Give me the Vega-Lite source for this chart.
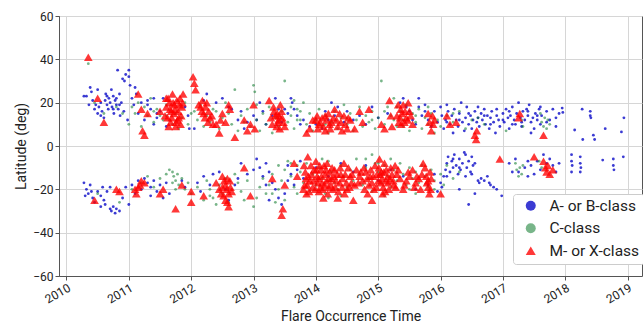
{
"$schema":"https://vega.github.io/schema/vega-lite/v6.json",
"autosize":"none","width":583,"height":260,
"padding":{"left":59,"top":16,"right":1,"bottom":48},
"background":"white",
"config":{"view":{"stroke":"#555","strokeWidth":1},
"axis":{"gridColor":"#d6d6d6","domainColor":"#555","tickColor":"#555","tickSize":4,"labelColor":"#222","titleColor":"#222","labelFont":"Roboto","titleFont":"Roboto","labelFontSize":12,"titleFontSize":14,"titleFontWeight":"normal"},
"legend":{"labelFont":"Roboto","labelFontSize":15.5,"labelColor":"#222"}},
"data":{"values":[
{"t":2010.28,"l":23,"c":"A"},{"t":2010.32,"l":23,"c":"A"},{"t":2010.36,"l":19,"c":"A"},{"t":2010.38,"l":27,"c":"A"},{"t":2010.4,"l":25,"c":"A"},{"t":2010.42,"l":21,"c":"A"},{"t":2010.45,"l":17,"c":"A"},{"t":2010.47,"l":19,"c":"A"},{"t":2010.5,"l":15,"c":"A"},{"t":2010.52,"l":18,"c":"A"},{"t":2010.55,"l":20,"c":"A"},{"t":2010.57,"l":16,"c":"A"},{"t":2010.6,"l":13,"c":"A"},{"t":2010.62,"l":21,"c":"A"},{"t":2010.63,"l":24,"c":"A"},{"t":2010.65,"l":19,"c":"A"},{"t":2010.67,"l":17,"c":"A"},{"t":2010.68,"l":22,"c":"A"},{"t":2010.7,"l":20,"c":"A"},{"t":2010.72,"l":26,"c":"A"},{"t":2010.73,"l":18,"c":"A"},{"t":2010.75,"l":23,"c":"A"},{"t":2010.76,"l":15,"c":"A"},{"t":2010.78,"l":21,"c":"A"},{"t":2010.8,"l":19,"c":"A"},{"t":2010.82,"l":35,"c":"A"},{"t":2010.83,"l":17,"c":"A"},{"t":2010.85,"l":24,"c":"A"},{"t":2010.86,"l":14,"c":"A"},{"t":2010.88,"l":20,"c":"A"},{"t":2010.9,"l":31,"c":"A"},{"t":2010.92,"l":16,"c":"A"},{"t":2010.93,"l":30,"c":"A"},{"t":2010.95,"l":33,"c":"A"},{"t":2011.0,"l":35,"c":"A"},{"t":2011.0,"l":32,"c":"A"},{"t":2011.02,"l":28,"c":"A"},{"t":2011.05,"l":22,"c":"A"},{"t":2011.08,"l":19,"c":"A"},{"t":2010.98,"l":12,"c":"A"},{"t":2011.1,"l":27,"c":"A"},{"t":2011.12,"l":24,"c":"A"},{"t":2011.15,"l":15,"c":"A"},{"t":2011.2,"l":20,"c":"A"},{"t":2011.25,"l":12,"c":"A"},{"t":2011.3,"l":21,"c":"A"},{"t":2011.35,"l":17,"c":"A"},{"t":2011.4,"l":10,"c":"A"},{"t":2011.45,"l":13,"c":"A"},{"t":2011.5,"l":16,"c":"A"},{"t":2011.55,"l":22,"c":"A"},{"t":2011.6,"l":9,"c":"A"},{"t":2011.9,"l":18,"c":"A"},{"t":2011.95,"l":14,"c":"A"},{"t":2011.97,"l":8,"c":"A"},{"t":2012.05,"l":8,"c":"A"},{"t":2012.2,"l":21,"c":"A"},{"t":2012.25,"l":24,"c":"A"},{"t":2012.4,"l":20,"c":"A"},{"t":2012.5,"l":22,"c":"A"},{"t":2012.65,"l":17,"c":"A"},{"t":2012.75,"l":12,"c":"A"},{"t":2012.8,"l":16,"c":"A"},{"t":2012.85,"l":8,"c":"A"},{"t":2012.9,"l":11,"c":"A"},{"t":2013.0,"l":14,"c":"A"},{"t":2013.05,"l":12,"c":"A"},{"t":2013.1,"l":20,"c":"A"},{"t":2013.15,"l":16,"c":"A"},{"t":2013.2,"l":10,"c":"A"},{"t":2013.3,"l":14,"c":"A"},{"t":2013.45,"l":11,"c":"A"},{"t":2013.5,"l":17,"c":"A"},{"t":2013.55,"l":15,"c":"A"},{"t":2013.6,"l":22,"c":"A"},{"t":2013.62,"l":20,"c":"A"},{"t":2013.7,"l":14,"c":"A"},{"t":2013.75,"l":10,"c":"A"},{"t":2013.8,"l":12,"c":"A"},{"t":2013.9,"l":9,"c":"A"},{"t":2014.0,"l":10,"c":"A"},{"t":2014.1,"l":8,"c":"A"},{"t":2014.2,"l":12,"c":"A"},{"t":2014.3,"l":14,"c":"A"},{"t":2014.35,"l":18,"c":"A"},{"t":2014.45,"l":11,"c":"A"},{"t":2014.5,"l":16,"c":"A"},{"t":2014.6,"l":12,"c":"A"},{"t":2014.7,"l":14,"c":"A"},{"t":2014.8,"l":10,"c":"A"},{"t":2014.9,"l":18,"c":"A"},{"t":2015.0,"l":13,"c":"A"},{"t":2015.15,"l":15,"c":"A"},{"t":2015.35,"l":20,"c":"A"},{"t":2015.4,"l":22,"c":"A"},{"t":2015.45,"l":18,"c":"A"},{"t":2015.5,"l":16,"c":"A"},{"t":2015.55,"l":12,"c":"A"},{"t":2015.6,"l":10,"c":"A"},{"t":2015.65,"l":18,"c":"A"},{"t":2015.7,"l":14,"c":"A"},{"t":2015.75,"l":19,"c":"A"},{"t":2015.8,"l":12,"c":"A"},{"t":2015.85,"l":9,"c":"A"},{"t":2015.9,"l":16,"c":"A"},{"t":2015.95,"l":11,"c":"A"},{"t":2016.0,"l":18,"c":"A"},{"t":2016.02,"l":14,"c":"A"},{"t":2016.05,"l":8,"c":"A"},{"t":2016.08,"l":12,"c":"A"},{"t":2016.1,"l":19,"c":"A"},{"t":2016.12,"l":16,"c":"A"},{"t":2016.15,"l":10,"c":"A"},{"t":2016.18,"l":14,"c":"A"},{"t":2016.2,"l":6,"c":"A"},{"t":2016.22,"l":17,"c":"A"},{"t":2016.25,"l":12,"c":"A"},{"t":2016.28,"l":9,"c":"A"},{"t":2016.3,"l":15,"c":"A"},{"t":2016.33,"l":20,"c":"A"},{"t":2016.35,"l":11,"c":"A"},{"t":2016.38,"l":7,"c":"A"},{"t":2016.4,"l":13,"c":"A"},{"t":2016.42,"l":18,"c":"A"},{"t":2016.45,"l":10,"c":"A"},{"t":2016.48,"l":14,"c":"A"},{"t":2016.5,"l":8,"c":"A"},{"t":2016.52,"l":12,"c":"A"},{"t":2016.55,"l":16,"c":"A"},{"t":2016.58,"l":11,"c":"A"},{"t":2016.6,"l":13,"c":"A"},{"t":2016.62,"l":9,"c":"A"},{"t":2016.65,"l":15,"c":"A"},{"t":2016.67,"l":12,"c":"A"},{"t":2016.7,"l":17,"c":"A"},{"t":2016.72,"l":10,"c":"A"},{"t":2016.75,"l":14,"c":"A"},{"t":2016.78,"l":8,"c":"A"},{"t":2016.8,"l":13,"c":"A"},{"t":2016.82,"l":16,"c":"A"},{"t":2016.85,"l":11,"c":"A"},{"t":2016.88,"l":6,"c":"A"},{"t":2016.9,"l":14,"c":"A"},{"t":2016.93,"l":12,"c":"A"},{"t":2016.95,"l":9,"c":"A"},{"t":2017.0,"l":15,"c":"A"},{"t":2017.02,"l":11,"c":"A"},{"t":2017.05,"l":17,"c":"A"},{"t":2017.08,"l":13,"c":"A"},{"t":2017.1,"l":8,"c":"A"},{"t":2017.12,"l":14,"c":"A"},{"t":2017.15,"l":18,"c":"A"},{"t":2017.18,"l":12,"c":"A"},{"t":2017.2,"l":10,"c":"A"},{"t":2017.22,"l":15,"c":"A"},{"t":2017.25,"l":20,"c":"A"},{"t":2017.28,"l":13,"c":"A"},{"t":2017.3,"l":9,"c":"A"},{"t":2017.32,"l":16,"c":"A"},{"t":2017.35,"l":12,"c":"A"},{"t":2017.38,"l":17,"c":"A"},{"t":2017.4,"l":14,"c":"A"},{"t":2017.42,"l":19,"c":"A"},{"t":2017.45,"l":11,"c":"A"},{"t":2017.48,"l":13,"c":"A"},{"t":2017.5,"l":8,"c":"A"},{"t":2017.52,"l":15,"c":"A"},{"t":2017.55,"l":12,"c":"A"},{"t":2017.58,"l":17,"c":"A"},{"t":2017.6,"l":10,"c":"A"},{"t":2017.62,"l":14,"c":"A"},{"t":2017.7,"l":16,"c":"A"},{"t":2017.75,"l":12,"c":"A"},{"t":2017.8,"l":17,"c":"A"},{"t":2017.85,"l":13,"c":"A"},{"t":2017.9,"l":15,"c":"A"},{"t":2017.95,"l":17.5,"c":"A"},{"t":2017.96,"l":15.5,"c":"A"},{"t":2018.15,"l":7.4,"c":"A"},{"t":2018.27,"l":17,"c":"A"},{"t":2018.28,"l":3,"c":"A"},{"t":2018.4,"l":16,"c":"A"},{"t":2018.4,"l":14,"c":"A"},{"t":2018.41,"l":13,"c":"A"},{"t":2018.45,"l":5,"c":"A"},{"t":2018.47,"l":3,"c":"A"},{"t":2018.64,"l":8,"c":"A"},{"t":2018.9,"l":6.5,"c":"A"},{"t":2018.94,"l":13,"c":"A"},
{"t":2010.5,"l":26,"c":"A"},{"t":2010.55,"l":14,"c":"A"},{"t":2010.65,"l":23,"c":"A"},{"t":2010.75,"l":17,"c":"A"},{"t":2010.8,"l":22,"c":"A"},{"t":2010.85,"l":19,"c":"A"},{"t":2011.3,"l":19,"c":"A"},{"t":2011.4,"l":22,"c":"A"},{"t":2011.45,"l":15,"c":"A"},{"t":2012.6,"l":18,"c":"A"},{"t":2013.35,"l":22,"c":"A"},{"t":2013.4,"l":17,"c":"A"},{"t":2013.65,"l":17,"c":"A"},{"t":2014.15,"l":16,"c":"A"},{"t":2014.25,"l":20,"c":"A"},{"t":2015.65,"l":22,"c":"A"},{"t":2015.75,"l":16,"c":"A"},{"t":2016.1,"l":11,"c":"A"},{"t":2016.3,"l":12,"c":"A"},{"t":2016.45,"l":15,"c":"A"},{"t":2016.6,"l":18,"c":"A"},{"t":2016.7,"l":14,"c":"A"},{"t":2016.8,"l":10,"c":"A"},{"t":2016.9,"l":17,"c":"A"},{"t":2017.0,"l":12,"c":"A"},{"t":2017.1,"l":16,"c":"A"},{"t":2017.15,"l":10,"c":"A"},{"t":2017.3,"l":11,"c":"A"},{"t":2017.4,"l":16,"c":"A"},{"t":2017.45,"l":6,"c":"A"},{"t":2017.55,"l":14,"c":"A"},{"t":2017.6,"l":18,"c":"A"},{"t":2017.7,"l":11,"c":"A"},{"t":2017.85,"l":9,"c":"A"},
{"t":2010.28,"l":-17,"c":"A"},{"t":2010.32,"l":-20,"c":"A"},{"t":2010.35,"l":-22,"c":"A"},{"t":2010.38,"l":-18,"c":"A"},{"t":2010.42,"l":-24,"c":"A"},{"t":2010.45,"l":-26,"c":"A"},{"t":2010.5,"l":-21,"c":"A"},{"t":2010.55,"l":-23,"c":"A"},{"t":2010.58,"l":-19,"c":"A"},{"t":2010.6,"l":-25,"c":"A"},{"t":2010.62,"l":-27,"c":"A"},{"t":2010.65,"l":-21,"c":"A"},{"t":2010.7,"l":-29,"c":"A"},{"t":2010.72,"l":-30,"c":"A"},{"t":2010.75,"l":-28,"c":"A"},{"t":2010.78,"l":-31,"c":"A"},{"t":2010.8,"l":-29,"c":"A"},{"t":2010.85,"l":-30,"c":"A"},{"t":2010.9,"l":-24,"c":"A"},{"t":2010.95,"l":-19,"c":"A"},{"t":2011.0,"l":-27,"c":"A"},{"t":2011.05,"l":-18,"c":"A"},{"t":2011.1,"l":-22,"c":"A"},{"t":2011.15,"l":-16,"c":"A"},{"t":2011.25,"l":-15,"c":"A"},{"t":2011.3,"l":-17,"c":"A"},{"t":2011.35,"l":-19,"c":"A"},{"t":2011.4,"l":-16,"c":"A"},{"t":2011.45,"l":-21,"c":"A"},{"t":2011.5,"l":-18,"c":"A"},{"t":2011.55,"l":-24,"c":"A"},{"t":2011.6,"l":-17,"c":"A"},{"t":2011.65,"l":-22,"c":"A"},{"t":2011.85,"l":-16,"c":"A"},{"t":2011.9,"l":-19,"c":"A"},{"t":2012.1,"l":-17,"c":"A"},{"t":2012.15,"l":-21,"c":"A"},{"t":2012.2,"l":-14,"c":"A"},{"t":2012.3,"l":-18,"c":"A"},{"t":2012.35,"l":-13,"c":"A"},{"t":2012.45,"l":-12,"c":"A"},{"t":2012.55,"l":-20,"c":"A"},{"t":2012.6,"l":-25,"c":"A"},{"t":2012.7,"l":-18,"c":"A"},{"t":2012.75,"l":-15,"c":"A"},{"t":2012.8,"l":-8,"c":"A"},{"t":2012.9,"l":-13,"c":"A"},{"t":2013.0,"l":-11,"c":"A"},{"t":2013.05,"l":-6,"c":"A"},{"t":2013.1,"l":-10,"c":"A"},{"t":2013.15,"l":-14,"c":"A"},{"t":2013.2,"l":-8,"c":"A"},{"t":2013.25,"l":-12,"c":"A"},{"t":2013.3,"l":-17,"c":"A"},{"t":2013.35,"l":-20,"c":"A"},{"t":2013.4,"l":-24,"c":"A"},{"t":2013.45,"l":-27,"c":"A"},{"t":2013.5,"l":-22,"c":"A"},{"t":2013.55,"l":-9,"c":"A"},{"t":2013.6,"l":-13,"c":"A"},{"t":2013.65,"l":-18,"c":"A"},{"t":2013.7,"l":-11,"c":"A"},{"t":2013.75,"l":-7,"c":"A"},{"t":2013.8,"l":-15,"c":"A"},{"t":2014.0,"l":-10,"c":"A"},{"t":2014.2,"l":-14,"c":"A"},{"t":2014.4,"l":-8,"c":"A"},{"t":2014.6,"l":-12,"c":"A"},{"t":2014.8,"l":-9,"c":"A"},{"t":2015.0,"l":-16,"c":"A"},{"t":2015.2,"l":-11,"c":"A"},{"t":2015.4,"l":-14,"c":"A"},{"t":2015.6,"l":-20,"c":"A"},{"t":2015.8,"l":-18,"c":"A"},{"t":2015.9,"l":-13,"c":"A"},{"t":2015.95,"l":-21,"c":"A"},{"t":2016.0,"l":-17,"c":"A"},{"t":2016.02,"l":-19,"c":"A"},{"t":2016.05,"l":-14,"c":"A"},{"t":2016.08,"l":-11,"c":"A"},{"t":2016.1,"l":-8,"c":"A"},{"t":2016.12,"l":-5,"c":"A"},{"t":2016.15,"l":-12,"c":"A"},{"t":2016.18,"l":-7,"c":"A"},{"t":2016.2,"l":-10,"c":"A"},{"t":2016.22,"l":-4,"c":"A"},{"t":2016.25,"l":-9,"c":"A"},{"t":2016.28,"l":-13,"c":"A"},{"t":2016.3,"l":-6,"c":"A"},{"t":2016.32,"l":-11,"c":"A"},{"t":2016.35,"l":-8,"c":"A"},{"t":2016.38,"l":-3,"c":"A"},{"t":2016.4,"l":-14,"c":"A"},{"t":2016.42,"l":-10,"c":"A"},{"t":2016.45,"l":-7,"c":"A"},{"t":2016.48,"l":-12,"c":"A"},{"t":2016.5,"l":-5,"c":"A"},{"t":2016.52,"l":-9,"c":"A"},{"t":2016.55,"l":-22,"c":"A"},{"t":2016.6,"l":-16,"c":"A"},{"t":2016.62,"l":-17,"c":"A"},{"t":2016.65,"l":-15,"c":"A"},{"t":2016.7,"l":-16,"c":"A"},{"t":2016.75,"l":-14,"c":"A"},{"t":2016.78,"l":-17,"c":"A"},{"t":2016.8,"l":-18,"c":"A"},{"t":2016.85,"l":-19,"c":"A"},{"t":2016.9,"l":-20,"c":"A"},{"t":2016.98,"l":-23,"c":"A"},{"t":2016.3,"l":-20,"c":"A"},{"t":2016.45,"l":-27,"c":"A"},{"t":2017.1,"l":-8,"c":"A"},{"t":2017.15,"l":-12,"c":"A"},{"t":2017.2,"l":-6,"c":"A"},{"t":2017.35,"l":-10,"c":"A"},{"t":2017.4,"l":-14,"c":"A"},{"t":2017.45,"l":-9,"c":"A"},{"t":2017.5,"l":-13,"c":"A"},{"t":2017.55,"l":-7,"c":"A"},{"t":2017.6,"l":-11,"c":"A"},{"t":2017.65,"l":-4,"c":"A"},{"t":2017.8,"l":-9,"c":"A"},{"t":2017.85,"l":-12,"c":"A"},{"t":2017.9,"l":-8,"c":"A"},{"t":2018.1,"l":-4,"c":"A"},{"t":2018.1,"l":-7,"c":"A"},{"t":2018.11,"l":-9,"c":"A"},{"t":2018.1,"l":-12,"c":"A"},{"t":2018.24,"l":-5,"c":"A"},{"t":2018.24,"l":-8,"c":"A"},{"t":2018.25,"l":-10,"c":"A"},{"t":2018.24,"l":-12,"c":"A"},{"t":2018.6,"l":-6.5,"c":"A"},{"t":2018.77,"l":-6,"c":"A"},{"t":2018.77,"l":-9,"c":"A"},{"t":2018.78,"l":-11,"c":"A"},{"t":2018.93,"l":-5,"c":"A"},
{"t":2010.3,"l":-23,"c":"A"},{"t":2010.4,"l":-21,"c":"A"},{"t":2010.55,"l":-28,"c":"A"},{"t":2010.7,"l":-19,"c":"A"},{"t":2011.2,"l":-20,"c":"A"},{"t":2011.35,"l":-23,"c":"A"},{"t":2013.2,"l":-18,"c":"A"},{"t":2013.25,"l":-25,"c":"A"},{"t":2013.55,"l":-16,"c":"A"},{"t":2016.1,"l":-14,"c":"A"},{"t":2016.2,"l":-6,"c":"A"},{"t":2016.3,"l":-10,"c":"A"},{"t":2016.4,"l":-4,"c":"A"},{"t":2016.5,"l":-13,"c":"A"},{"t":2016.55,"l":-8,"c":"A"},{"t":2017.25,"l":-12,"c":"A"},{"t":2017.4,"l":-7,"c":"A"},{"t":2017.7,"l":-8,"c":"A"},{"t":2017.75,"l":-6,"c":"A"},
{"t":2010.35,"l":38,"c":"C"},{"t":2010.45,"l":20,"c":"C"},{"t":2010.6,"l":15,"c":"C"},{"t":2010.8,"l":18,"c":"C"},{"t":2011.0,"l":10,"c":"C"},{"t":2011.1,"l":15,"c":"C"},{"t":2011.15,"l":20,"c":"C"},{"t":2011.2,"l":9,"c":"C"},{"t":2011.25,"l":18,"c":"C"},{"t":2011.3,"l":14,"c":"C"},{"t":2011.35,"l":22,"c":"C"},{"t":2011.4,"l":11,"c":"C"},{"t":2011.45,"l":17,"c":"C"},{"t":2011.5,"l":14,"c":"C"},{"t":2011.55,"l":12,"c":"C"},{"t":2011.6,"l":19,"c":"C"},{"t":2011.7,"l":10,"c":"C"},{"t":2011.75,"l":15,"c":"C"},{"t":2011.8,"l":8,"c":"C"},{"t":2011.85,"l":13,"c":"C"},{"t":2011.9,"l":20,"c":"C"},{"t":2011.95,"l":10,"c":"C"},{"t":2012.05,"l":16,"c":"C"},{"t":2012.1,"l":12,"c":"C"},{"t":2012.15,"l":19,"c":"C"},{"t":2012.2,"l":9,"c":"C"},{"t":2012.25,"l":14,"c":"C"},{"t":2012.3,"l":11,"c":"C"},{"t":2012.35,"l":17,"c":"C"},{"t":2012.45,"l":8,"c":"C"},{"t":2012.5,"l":13,"c":"C"},{"t":2012.55,"l":20,"c":"C"},{"t":2012.6,"l":15,"c":"C"},{"t":2012.65,"l":10,"c":"C"},{"t":2012.7,"l":26,"c":"C"},{"t":2012.75,"l":7,"c":"C"},{"t":2012.8,"l":14,"c":"C"},{"t":2012.85,"l":11,"c":"C"},{"t":2012.9,"l":17,"c":"C"},{"t":2012.95,"l":9,"c":"C"},{"t":2013.0,"l":28,"c":"C"},{"t":2013.02,"l":25,"c":"C"},{"t":2013.05,"l":12,"c":"C"},{"t":2013.1,"l":7,"c":"C"},{"t":2013.15,"l":15,"c":"C"},{"t":2013.2,"l":10,"c":"C"},{"t":2013.25,"l":18,"c":"C"},{"t":2013.3,"l":6,"c":"C"},{"t":2013.35,"l":13,"c":"C"},{"t":2013.4,"l":9,"c":"C"},{"t":2013.45,"l":16,"c":"C"},{"t":2013.5,"l":30,"c":"C"},{"t":2013.55,"l":11,"c":"C"},{"t":2013.6,"l":14,"c":"C"},{"t":2013.65,"l":8,"c":"C"},{"t":2013.7,"l":17,"c":"C"},{"t":2013.75,"l":12,"c":"C"},{"t":2013.8,"l":20,"c":"C"},{"t":2013.85,"l":10,"c":"C"},{"t":2013.9,"l":15,"c":"C"},{"t":2013.95,"l":7,"c":"C"},{"t":2014.0,"l":12,"c":"C"},{"t":2014.05,"l":17,"c":"C"},{"t":2014.1,"l":9,"c":"C"},{"t":2014.15,"l":14,"c":"C"},{"t":2014.2,"l":6,"c":"C"},{"t":2014.25,"l":11,"c":"C"},{"t":2014.3,"l":16,"c":"C"},{"t":2014.35,"l":8,"c":"C"},{"t":2014.4,"l":13,"c":"C"},{"t":2014.45,"l":19,"c":"C"},{"t":2014.5,"l":10,"c":"C"},{"t":2014.55,"l":15,"c":"C"},{"t":2014.6,"l":7,"c":"C"},{"t":2014.65,"l":12,"c":"C"},{"t":2014.7,"l":18,"c":"C"},{"t":2014.75,"l":9,"c":"C"},{"t":2014.8,"l":14,"c":"C"},{"t":2014.85,"l":11,"c":"C"},{"t":2014.9,"l":16,"c":"C"},{"t":2014.95,"l":8,"c":"C"},{"t":2015.0,"l":13,"c":"C"},{"t":2015.05,"l":30,"c":"C"},{"t":2015.1,"l":10,"c":"C"},{"t":2015.15,"l":18,"c":"C"},{"t":2015.2,"l":14,"c":"C"},{"t":2015.25,"l":22,"c":"C"},{"t":2015.3,"l":9,"c":"C"},{"t":2015.35,"l":16,"c":"C"},{"t":2015.4,"l":12,"c":"C"},{"t":2015.45,"l":19,"c":"C"},{"t":2015.5,"l":7,"c":"C"},{"t":2015.55,"l":15,"c":"C"},{"t":2015.6,"l":11,"c":"C"},{"t":2015.65,"l":17,"c":"C"},{"t":2015.7,"l":8,"c":"C"},{"t":2015.75,"l":13,"c":"C"},{"t":2015.8,"l":10,"c":"C"},{"t":2015.85,"l":15,"c":"C"},{"t":2015.9,"l":6,"c":"C"},{"t":2015.95,"l":12,"c":"C"},{"t":2016.0,"l":9,"c":"C"},{"t":2016.1,"l":14,"c":"C"},{"t":2016.2,"l":11,"c":"C"},{"t":2016.3,"l":16,"c":"C"},{"t":2016.4,"l":8,"c":"C"},{"t":2016.5,"l":12,"c":"C"},{"t":2016.7,"l":10,"c":"C"},{"t":2017.05,"l":7,"c":"C"},{"t":2017.3,"l":12,"c":"C"},{"t":2017.32,"l":9,"c":"C"},{"t":2017.6,"l":15,"c":"C"},{"t":2017.62,"l":11,"c":"C"},{"t":2017.65,"l":9,"c":"C"},{"t":2017.67,"l":13,"c":"C"},{"t":2017.7,"l":8,"c":"C"},{"t":2017.72,"l":12,"c":"C"},
{"t":2010.9,"l":15,"c":"C"},{"t":2011.05,"l":18,"c":"C"},{"t":2011.4,"l":16,"c":"C"},{"t":2011.6,"l":14,"c":"C"},{"t":2012.0,"l":15,"c":"C"},{"t":2012.4,"l":16,"c":"C"},{"t":2013.05,"l":19,"c":"C"},{"t":2013.6,"l":18,"c":"C"},{"t":2013.65,"l":21,"c":"C"},{"t":2013.7,"l":12,"c":"C"},{"t":2013.75,"l":16,"c":"C"},{"t":2014.15,"l":10,"c":"C"},{"t":2014.5,"l":13,"c":"C"},{"t":2014.9,"l":12,"c":"C"},{"t":2015.1,"l":16,"c":"C"},{"t":2015.25,"l":12,"c":"C"},{"t":2015.3,"l":18,"c":"C"},{"t":2015.4,"l":9,"c":"C"},{"t":2015.6,"l":14,"c":"C"},{"t":2015.8,"l":18,"c":"C"},{"t":2016.2,"l":15,"c":"C"},{"t":2016.6,"l":13,"c":"C"},{"t":2017.75,"l":10,"c":"C"},
{"t":2010.5,"l":-22,"c":"C"},{"t":2010.85,"l":-26,"c":"C"},{"t":2011.05,"l":-20,"c":"C"},{"t":2011.2,"l":-17,"c":"C"},{"t":2011.3,"l":-14,"c":"C"},{"t":2011.4,"l":-19,"c":"C"},{"t":2011.5,"l":-15,"c":"C"},{"t":2011.6,"l":-13,"c":"C"},{"t":2011.65,"l":-11,"c":"C"},{"t":2011.7,"l":-12,"c":"C"},{"t":2011.72,"l":-14,"c":"C"},{"t":2011.75,"l":-16,"c":"C"},{"t":2011.78,"l":-13,"c":"C"},{"t":2011.8,"l":-18,"c":"C"},{"t":2011.85,"l":-15,"c":"C"},{"t":2011.9,"l":-20,"c":"C"},{"t":2011.95,"l":-17,"c":"C"},{"t":2012.0,"l":-22,"c":"C"},{"t":2012.1,"l":-19,"c":"C"},{"t":2012.2,"l":-25,"c":"C"},{"t":2012.25,"l":-16,"c":"C"},{"t":2012.3,"l":-20,"c":"C"},{"t":2012.35,"l":-24,"c":"C"},{"t":2012.4,"l":-27,"c":"C"},{"t":2012.45,"l":-18,"c":"C"},{"t":2012.5,"l":-22,"c":"C"},{"t":2012.55,"l":-15,"c":"C"},{"t":2012.6,"l":-26,"c":"C"},{"t":2012.65,"l":-20,"c":"C"},{"t":2012.7,"l":-13,"c":"C"},{"t":2012.75,"l":-17,"c":"C"},{"t":2012.8,"l":-21,"c":"C"},{"t":2012.85,"l":-25,"c":"C"},{"t":2012.9,"l":-16,"c":"C"},{"t":2013.0,"l":-28,"c":"C"},{"t":2013.05,"l":-24,"c":"C"},{"t":2013.1,"l":-19,"c":"C"},{"t":2013.15,"l":-15,"c":"C"},{"t":2013.2,"l":-22,"c":"C"},{"t":2013.25,"l":-18,"c":"C"},{"t":2013.3,"l":-13,"c":"C"},{"t":2013.35,"l":-26,"c":"C"},{"t":2013.4,"l":-20,"c":"C"},{"t":2013.45,"l":-16,"c":"C"},{"t":2013.5,"l":-11,"c":"C"},{"t":2013.55,"l":-7,"c":"C"},{"t":2013.6,"l":-14,"c":"C"},{"t":2013.65,"l":-19,"c":"C"},{"t":2013.7,"l":-9,"c":"C"},{"t":2013.75,"l":-12,"c":"C"},{"t":2013.8,"l":-17,"c":"C"},{"t":2013.85,"l":-8,"c":"C"},{"t":2013.9,"l":-21,"c":"C"},{"t":2013.95,"l":-13,"c":"C"},{"t":2014.0,"l":-18,"c":"C"},{"t":2014.05,"l":-10,"c":"C"},{"t":2014.1,"l":-15,"c":"C"},{"t":2014.15,"l":-22,"c":"C"},{"t":2014.2,"l":-7,"c":"C"},{"t":2014.25,"l":-12,"c":"C"},{"t":2014.3,"l":-17,"c":"C"},{"t":2014.35,"l":-20,"c":"C"},{"t":2014.4,"l":-9,"c":"C"},{"t":2014.45,"l":-14,"c":"C"},{"t":2014.5,"l":-19,"c":"C"},{"t":2014.55,"l":-11,"c":"C"},{"t":2014.6,"l":-16,"c":"C"},{"t":2014.65,"l":-6,"c":"C"},{"t":2014.7,"l":-13,"c":"C"},{"t":2014.75,"l":-18,"c":"C"},{"t":2014.8,"l":-10,"c":"C"},{"t":2014.85,"l":-15,"c":"C"},{"t":2014.9,"l":-21,"c":"C"},{"t":2014.95,"l":-8,"c":"C"},{"t":2015.0,"l":-12,"c":"C"},{"t":2015.05,"l":-17,"c":"C"},{"t":2015.1,"l":-9,"c":"C"},{"t":2015.15,"l":-14,"c":"C"},{"t":2015.2,"l":-19,"c":"C"},{"t":2015.25,"l":-11,"c":"C"},{"t":2015.3,"l":-16,"c":"C"},{"t":2015.35,"l":-8,"c":"C"},{"t":2015.4,"l":-13,"c":"C"},{"t":2015.45,"l":-18,"c":"C"},{"t":2015.5,"l":-10,"c":"C"},{"t":2015.55,"l":-15,"c":"C"},{"t":2015.6,"l":-12,"c":"C"},{"t":2015.65,"l":-17,"c":"C"},{"t":2015.7,"l":-9,"c":"C"},{"t":2015.75,"l":-14,"c":"C"},{"t":2015.8,"l":-19,"c":"C"},{"t":2015.85,"l":-11,"c":"C"},{"t":2015.9,"l":-16,"c":"C"},{"t":2016.0,"l":-13,"c":"C"},{"t":2016.1,"l":-9,"c":"C"},{"t":2016.2,"l":-15,"c":"C"},{"t":2016.3,"l":-12,"c":"C"},{"t":2017.2,"l":-8,"c":"C"},{"t":2017.22,"l":-11,"c":"C"},{"t":2017.25,"l":-14,"c":"C"},{"t":2017.27,"l":-10,"c":"C"},{"t":2017.3,"l":-13,"c":"C"},{"t":2017.32,"l":-9,"c":"C"},{"t":2017.58,"l":-7,"c":"C"},{"t":2017.62,"l":-10,"c":"C"},
{"t":2011.7,"l":-17,"c":"C"},{"t":2011.75,"l":-20,"c":"C"},{"t":2012.3,"l":-23,"c":"C"},{"t":2013.3,"l":-22,"c":"C"},{"t":2013.4,"l":-9,"c":"C"},{"t":2013.5,"l":-25,"c":"C"},{"t":2013.6,"l":-8,"c":"C"},{"t":2013.7,"l":-22,"c":"C"},{"t":2014.1,"l":-6,"c":"C"},{"t":2014.2,"l":-24,"c":"C"},{"t":2014.4,"l":-23,"c":"C"},{"t":2014.8,"l":-6,"c":"C"},{"t":2014.9,"l":-4,"c":"C"},{"t":2015.0,"l":-8,"c":"C"},{"t":2015.1,"l":-23,"c":"C"},{"t":2015.2,"l":-6,"c":"C"},{"t":2015.5,"l":-20,"c":"C"},{"t":2015.6,"l":-22,"c":"C"},{"t":2015.9,"l":-20,"c":"C"},{"t":2016.05,"l":-18,"c":"C"},
{"t":2010.35,"l":41,"c":"M"},{"t":2010.5,"l":22,"c":"M"},{"t":2010.6,"l":11,"c":"M"},{"t":2011.15,"l":24,"c":"M"},{"t":2011.2,"l":17,"c":"M"},{"t":2011.22,"l":7,"c":"M"},{"t":2011.25,"l":5,"c":"M"},{"t":2011.3,"l":15,"c":"M"},{"t":2011.5,"l":16,"c":"M"},{"t":2011.6,"l":18,"c":"M"},{"t":2011.62,"l":13,"c":"M"},{"t":2011.65,"l":20,"c":"M"},{"t":2011.67,"l":11,"c":"M"},{"t":2011.7,"l":24,"c":"M"},{"t":2011.72,"l":15,"c":"M"},{"t":2011.75,"l":9,"c":"M"},{"t":2011.77,"l":21,"c":"M"},{"t":2011.8,"l":13,"c":"M"},{"t":2011.85,"l":18,"c":"M"},{"t":2011.87,"l":24,"c":"M"},{"t":2012.03,"l":32,"c":"M"},{"t":2012.05,"l":29,"c":"M"},{"t":2012.07,"l":26,"c":"M"},{"t":2012.15,"l":18,"c":"M"},{"t":2012.2,"l":15,"c":"M"},{"t":2012.25,"l":20,"c":"M"},{"t":2012.3,"l":13,"c":"M"},{"t":2012.4,"l":10,"c":"M"},{"t":2012.45,"l":6,"c":"M"},{"t":2012.47,"l":12,"c":"M"},{"t":2012.5,"l":15,"c":"M"},{"t":2012.6,"l":19,"c":"M"},{"t":2012.62,"l":17,"c":"M"},{"t":2012.7,"l":4,"c":"M"},{"t":2012.85,"l":12,"c":"M"},{"t":2012.9,"l":7,"c":"M"},{"t":2012.95,"l":10,"c":"M"},{"t":2013.0,"l":19,"c":"M"},{"t":2013.02,"l":8,"c":"M"},{"t":2013.25,"l":21,"c":"M"},{"t":2013.3,"l":10,"c":"M"},{"t":2013.35,"l":14,"c":"M"},{"t":2013.4,"l":12,"c":"M"},{"t":2013.42,"l":8,"c":"M"},{"t":2013.45,"l":16,"c":"M"},{"t":2013.48,"l":11,"c":"M"},{"t":2013.85,"l":6,"c":"M"},{"t":2013.9,"l":8,"c":"M"},{"t":2013.95,"l":12,"c":"M"},{"t":2014.05,"l":10,"c":"M"},{"t":2014.1,"l":13,"c":"M"},{"t":2014.15,"l":7,"c":"M"},{"t":2014.2,"l":15,"c":"M"},{"t":2014.25,"l":11,"c":"M"},{"t":2014.3,"l":17,"c":"M"},{"t":2014.35,"l":9,"c":"M"},{"t":2014.45,"l":14,"c":"M"},{"t":2014.5,"l":8,"c":"M"},{"t":2014.55,"l":12,"c":"M"},{"t":2014.7,"l":16,"c":"M"},{"t":2014.75,"l":11,"c":"M"},{"t":2014.85,"l":17,"c":"M"},{"t":2015.05,"l":10,"c":"M"},{"t":2015.1,"l":8,"c":"M"},{"t":2015.18,"l":21,"c":"M"},{"t":2015.3,"l":14,"c":"M"},{"t":2015.33,"l":11,"c":"M"},{"t":2015.36,"l":17,"c":"M"},{"t":2015.4,"l":19,"c":"M"},{"t":2015.45,"l":13,"c":"M"},{"t":2015.5,"l":16,"c":"M"},{"t":2015.55,"l":10,"c":"M"},{"t":2015.8,"l":15,"c":"M"},{"t":2015.85,"l":7,"c":"M"},{"t":2015.9,"l":12,"c":"M"},{"t":2016.1,"l":14,"c":"M"},{"t":2016.15,"l":10,"c":"M"},{"t":2016.25,"l":11,"c":"M"},{"t":2016.55,"l":5,"c":"M"},{"t":2016.57,"l":3,"c":"M"},{"t":2016.58,"l":7,"c":"M"},{"t":2017.25,"l":13,"c":"M"},{"t":2017.27,"l":15,"c":"M"},{"t":2017.65,"l":5,"c":"M"},
{"t":2011.63,"l":22,"c":"M"},{"t":2011.68,"l":16,"c":"M"},{"t":2011.73,"l":19,"c":"M"},{"t":2011.78,"l":12,"c":"M"},{"t":2011.82,"l":22,"c":"M"},{"t":2011.83,"l":10,"c":"M"},{"t":2012.18,"l":21,"c":"M"},{"t":2012.22,"l":13,"c":"M"},{"t":2012.28,"l":16,"c":"M"},{"t":2013.32,"l":18,"c":"M"},{"t":2013.37,"l":9,"c":"M"},{"t":2013.38,"l":15,"c":"M"},{"t":2013.43,"l":19,"c":"M"},{"t":2014.0,"l":12,"c":"M"},{"t":2014.03,"l":8,"c":"M"},{"t":2014.22,"l":10,"c":"M"},{"t":2014.28,"l":13,"c":"M"},{"t":2014.4,"l":11,"c":"M"},{"t":2014.42,"l":7,"c":"M"},{"t":2015.38,"l":15,"c":"M"},{"t":2015.42,"l":11,"c":"M"},{"t":2015.48,"l":20,"c":"M"},{"t":2015.2,"l":14,"c":"M"},{"t":2015.22,"l":9,"c":"M"},{"t":2014.15,"l":14,"c":"M"},{"t":2014.62,"l":8,"c":"M"},{"t":2012.55,"l":11,"c":"M"},{"t":2015.88,"l":10,"c":"M"},
{"t":2011.58,"l":14,"c":"M"},{"t":2011.6,"l":22,"c":"M"},{"t":2011.64,"l":9,"c":"M"},{"t":2011.66,"l":17,"c":"M"},{"t":2011.69,"l":13,"c":"M"},{"t":2011.71,"l":20,"c":"M"},{"t":2011.74,"l":17,"c":"M"},{"t":2011.76,"l":11,"c":"M"},{"t":2011.79,"l":16,"c":"M"},{"t":2011.81,"l":19,"c":"M"},{"t":2011.84,"l":14,"c":"M"},{"t":2011.86,"l":20,"c":"M"},{"t":2012.12,"l":19,"c":"M"},{"t":2012.17,"l":16,"c":"M"},{"t":2012.23,"l":18,"c":"M"},{"t":2012.27,"l":11,"c":"M"},{"t":2012.33,"l":14,"c":"M"},{"t":2012.35,"l":10,"c":"M"},{"t":2013.28,"l":13,"c":"M"},{"t":2013.33,"l":16,"c":"M"},{"t":2013.39,"l":11,"c":"M"},{"t":2013.41,"l":14,"c":"M"},{"t":2013.46,"l":13,"c":"M"},{"t":2013.5,"l":9,"c":"M"},{"t":2014.02,"l":14,"c":"M"},{"t":2014.07,"l":11,"c":"M"},{"t":2014.12,"l":9,"c":"M"},{"t":2014.17,"l":12,"c":"M"},{"t":2014.23,"l":8,"c":"M"},{"t":2014.33,"l":12,"c":"M"},{"t":2014.38,"l":15,"c":"M"},{"t":2014.47,"l":10,"c":"M"},{"t":2014.52,"l":13,"c":"M"},{"t":2015.32,"l":19,"c":"M"},{"t":2015.35,"l":13,"c":"M"},{"t":2015.37,"l":10,"c":"M"},{"t":2015.43,"l":16,"c":"M"},{"t":2015.47,"l":12,"c":"M"},{"t":2015.52,"l":14,"c":"M"},{"t":2015.82,"l":11,"c":"M"},{"t":2015.87,"l":14,"c":"M"},
{"t":2010.45,"l":-25,"c":"M"},{"t":2010.8,"l":-20,"c":"M"},{"t":2010.85,"l":-21,"c":"M"},{"t":2011.1,"l":-20,"c":"M"},{"t":2011.15,"l":-19,"c":"M"},{"t":2011.2,"l":-16,"c":"M"},{"t":2011.25,"l":-17,"c":"M"},{"t":2011.5,"l":-22,"c":"M"},{"t":2011.55,"l":-20,"c":"M"},{"t":2011.75,"l":-29,"c":"M"},{"t":2011.85,"l":-18,"c":"M"},{"t":2012.0,"l":-21,"c":"M"},{"t":2012.0,"l":-26,"c":"M"},{"t":2012.2,"l":-23,"c":"M"},{"t":2012.4,"l":-17,"c":"M"},{"t":2012.45,"l":-20,"c":"M"},{"t":2012.5,"l":-14,"c":"M"},{"t":2012.52,"l":-23,"c":"M"},{"t":2012.55,"l":-18,"c":"M"},{"t":2012.58,"l":-26,"c":"M"},{"t":2012.6,"l":-28,"c":"M"},{"t":2012.62,"l":-16,"c":"M"},{"t":2012.65,"l":-21,"c":"M"},{"t":2012.85,"l":-10,"c":"M"},{"t":2012.95,"l":-23,"c":"M"},{"t":2013.3,"l":-15,"c":"M"},{"t":2013.45,"l":-32,"c":"M"},{"t":2013.47,"l":-29,"c":"M"},{"t":2013.5,"l":-18,"c":"M"},{"t":2013.65,"l":-8,"c":"M"},{"t":2013.7,"l":-14,"c":"M"},{"t":2013.8,"l":-20,"c":"M"},{"t":2013.83,"l":-12,"c":"M"},{"t":2013.85,"l":-22,"c":"M"},{"t":2013.87,"l":-5,"c":"M"},{"t":2013.9,"l":-16,"c":"M"},{"t":2013.92,"l":-9,"c":"M"},{"t":2013.95,"l":-19,"c":"M"},{"t":2014.0,"l":-7,"c":"M"},{"t":2014.02,"l":-14,"c":"M"},{"t":2014.05,"l":-21,"c":"M"},{"t":2014.08,"l":-11,"c":"M"},{"t":2014.1,"l":-17,"c":"M"},{"t":2014.12,"l":-24,"c":"M"},{"t":2014.15,"l":-13,"c":"M"},{"t":2014.18,"l":-8,"c":"M"},{"t":2014.2,"l":-19,"c":"M"},{"t":2014.25,"l":-15,"c":"M"},{"t":2014.3,"l":-11,"c":"M"},{"t":2014.35,"l":-24,"c":"M"},{"t":2014.38,"l":-17,"c":"M"},{"t":2014.4,"l":-13,"c":"M"},{"t":2014.45,"l":-8,"c":"M"},{"t":2014.5,"l":-20,"c":"M"},{"t":2014.55,"l":-14,"c":"M"},{"t":2014.6,"l":-25,"c":"M"},{"t":2014.65,"l":-11,"c":"M"},{"t":2014.75,"l":-16,"c":"M"},{"t":2014.8,"l":-12,"c":"M"},{"t":2014.85,"l":-18,"c":"M"},{"t":2014.9,"l":-25,"c":"M"},{"t":2014.92,"l":-14,"c":"M"},{"t":2014.95,"l":-9,"c":"M"},{"t":2015.0,"l":-16,"c":"M"},{"t":2015.02,"l":-6,"c":"M"},{"t":2015.05,"l":-12,"c":"M"},{"t":2015.08,"l":-19,"c":"M"},{"t":2015.1,"l":-8,"c":"M"},{"t":2015.15,"l":-14,"c":"M"},{"t":2015.2,"l":-10,"c":"M"},{"t":2015.25,"l":-18,"c":"M"},{"t":2015.3,"l":-13,"c":"M"},{"t":2015.4,"l":-20,"c":"M"},{"t":2015.45,"l":-16,"c":"M"},{"t":2015.55,"l":-11,"c":"M"},{"t":2015.6,"l":-17,"c":"M"},{"t":2015.7,"l":-13,"c":"M"},{"t":2015.72,"l":-8,"c":"M"},{"t":2015.8,"l":-19,"c":"M"},{"t":2015.82,"l":-22,"c":"M"},{"t":2015.85,"l":-15,"c":"M"},{"t":2016.0,"l":-22,"c":"M"},{"t":2016.95,"l":-6,"c":"M"},{"t":2017.5,"l":-5,"c":"M"},{"t":2017.65,"l":-7,"c":"M"},{"t":2017.68,"l":-10,"c":"M"},{"t":2017.7,"l":-12,"c":"M"},{"t":2017.72,"l":-9,"c":"M"},{"t":2017.75,"l":-13,"c":"M"},{"t":2017.8,"l":-11,"c":"M"},
{"t":2013.82,"l":-18,"c":"M"},{"t":2013.88,"l":-14,"c":"M"},{"t":2013.97,"l":-11,"c":"M"},{"t":2014.03,"l":-17,"c":"M"},{"t":2014.07,"l":-19,"c":"M"},{"t":2014.13,"l":-9,"c":"M"},{"t":2014.17,"l":-16,"c":"M"},{"t":2014.22,"l":-12,"c":"M"},{"t":2014.27,"l":-20,"c":"M"},{"t":2014.32,"l":-16,"c":"M"},{"t":2014.42,"l":-19,"c":"M"},{"t":2014.47,"l":-13,"c":"M"},{"t":2014.52,"l":-10,"c":"M"},{"t":2014.57,"l":-17,"c":"M"},{"t":2014.7,"l":-14,"c":"M"},{"t":2014.78,"l":-20,"c":"M"},{"t":2014.82,"l":-15,"c":"M"},{"t":2014.88,"l":-11,"c":"M"},{"t":2014.97,"l":-19,"c":"M"},{"t":2015.03,"l":-13,"c":"M"},{"t":2015.07,"l":-22,"c":"M"},{"t":2015.12,"l":-16,"c":"M"},{"t":2015.17,"l":-20,"c":"M"},{"t":2015.22,"l":-13,"c":"M"},{"t":2015.27,"l":-9,"c":"M"},{"t":2015.35,"l":-15,"c":"M"},{"t":2015.5,"l":-14,"c":"M"},{"t":2015.58,"l":-19,"c":"M"},{"t":2015.65,"l":-15,"c":"M"},{"t":2015.75,"l":-10,"c":"M"},{"t":2015.78,"l":-17,"c":"M"},{"t":2015.83,"l":-12,"c":"M"},{"t":2012.48,"l":-22,"c":"M"},{"t":2012.53,"l":-16,"c":"M"},{"t":2012.57,"l":-20,"c":"M"},{"t":2011.12,"l":-22,"c":"M"},{"t":2011.18,"l":-18,"c":"M"},
{"t":2013.81,"l":-9,"c":"M"},{"t":2013.84,"l":-15,"c":"M"},{"t":2013.86,"l":-18,"c":"M"},{"t":2013.89,"l":-21,"c":"M"},{"t":2013.93,"l":-13,"c":"M"},{"t":2013.96,"l":-16,"c":"M"},{"t":2013.99,"l":-20,"c":"M"},{"t":2014.01,"l":-11,"c":"M"},{"t":2014.04,"l":-15,"c":"M"},{"t":2014.06,"l":-9,"c":"M"},{"t":2014.09,"l":-14,"c":"M"},{"t":2014.11,"l":-20,"c":"M"},{"t":2014.14,"l":-18,"c":"M"},{"t":2014.16,"l":-11,"c":"M"},{"t":2014.19,"l":-22,"c":"M"},{"t":2014.21,"l":-15,"c":"M"},{"t":2014.24,"l":-18,"c":"M"},{"t":2014.26,"l":-10,"c":"M"},{"t":2014.29,"l":-14,"c":"M"},{"t":2014.31,"l":-19,"c":"M"},{"t":2014.34,"l":-13,"c":"M"},{"t":2014.36,"l":-21,"c":"M"},{"t":2014.39,"l":-10,"c":"M"},{"t":2014.43,"l":-15,"c":"M"},{"t":2014.46,"l":-22,"c":"M"},{"t":2014.49,"l":-17,"c":"M"},{"t":2014.54,"l":-19,"c":"M"},{"t":2014.58,"l":-13,"c":"M"},{"t":2014.62,"l":-18,"c":"M"},{"t":2014.68,"l":-17,"c":"M"},{"t":2014.72,"l":-12,"c":"M"},{"t":2014.77,"l":-10,"c":"M"},{"t":2014.83,"l":-22,"c":"M"},{"t":2014.87,"l":-14,"c":"M"},{"t":2014.9,"l":-17,"c":"M"},{"t":2014.93,"l":-20,"c":"M"},{"t":2014.98,"l":-13,"c":"M"},{"t":2015.01,"l":-10,"c":"M"},{"t":2015.04,"l":-17,"c":"M"},{"t":2015.06,"l":-15,"c":"M"},{"t":2015.09,"l":-12,"c":"M"},{"t":2015.11,"l":-21,"c":"M"},{"t":2015.13,"l":-11,"c":"M"},{"t":2015.16,"l":-17,"c":"M"},{"t":2015.19,"l":-15,"c":"M"},{"t":2015.24,"l":-16,"c":"M"},{"t":2015.28,"l":-19,"c":"M"},{"t":2015.32,"l":-11,"c":"M"},{"t":2015.42,"l":-18,"c":"M"},{"t":2015.48,"l":-12,"c":"M"},{"t":2015.62,"l":-14,"c":"M"},{"t":2015.68,"l":-20,"c":"M"},{"t":2015.77,"l":-14,"c":"M"},{"t":2015.8,"l":-16,"c":"M"},{"t":2015.84,"l":-20,"c":"M"},{"t":2012.5,"l":-19,"c":"M"},{"t":2012.55,"l":-25,"c":"M"},{"t":2012.6,"l":-22,"c":"M"},{"t":2012.63,"l":-19,"c":"M"},{"t":2012.58,"l":-15,"c":"M"}
]},
"encoding":{
"x":{"field":"t","type":"quantitative","scale":{"domain":[2009.88,2019.23],"nice":false,"zero":false},"axis":{"values":[2010,2011,2012,2013,2014,2015,2016,2017,2018,2019],"format":"d","labelAngle":-30,"labelAlign":"right","labelBaseline":"top","title":"Flare Occurrence Time","titlePadding":4}},
"y":{"field":"l","type":"quantitative","scale":{"domain":[-60,60],"nice":false},"axis":{"values":[-60,-40,-20,0,20,40,60],"title":"Latitude (deg)","titlePadding":4}},
"color":{"field":"c","type":"nominal","scale":{"domain":["A","C","M"],"range":["rgba(10,10,200,0.8)","rgba(10,120,40,0.55)","rgba(255,0,0,0.78)"]},"legend":{"title":null,"orient":"none","legendX":454,"legendY":178,"direction":"vertical","labelExpr":"datum.label == 'A' ? 'A- or B-class' : datum.label == 'C' ? 'C-class' : 'M- or X-class'","strokeColor":"#cccccc","fillColor":"white","padding":4,"cornerRadius":3,"rowPadding":5.5,"symbolOffset":6,"labelOffset":11,"encode":{"symbols":{"size":{"condition":{"test":"datum.value === 'M'","value":80},"value":8}}}}},
"shape":{"field":"c","type":"nominal","scale":{"domain":["A","C","M"],"range":["circle","circle","triangle-up"]},"legend":{"title":null,"orient":"none","legendX":454,"legendY":178,"direction":"vertical","labelExpr":"datum.label == 'A' ? 'A- or B-class' : datum.label == 'C' ? 'C-class' : 'M- or X-class'","strokeColor":"#cccccc","fillColor":"white","padding":4,"cornerRadius":3,"rowPadding":5.5,"symbolOffset":6,"labelOffset":11,"encode":{"symbols":{"size":{"condition":{"test":"datum.value === 'M'","value":80},"value":8}}}}}
},
"layer":[
{"transform":[{"filter":"datum.c !== 'M'"}],"mark":{"type":"point","filled":true,"strokeWidth":0,"opacity":1,"size":8}},
{"transform":[{"filter":"datum.c === 'M'"}],"mark":{"type":"point","filled":true,"strokeWidth":0,"opacity":1,"size":75}}
]
}
